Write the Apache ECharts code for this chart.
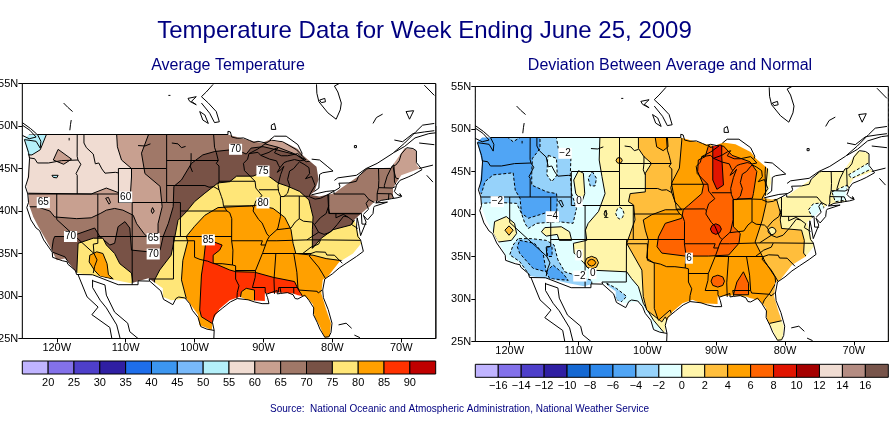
<!DOCTYPE html>
<html><head><meta charset="utf-8">
<style>html,body{margin:0;padding:0;background:#fff}#c{width:895px;height:423px}</style>
<script src="https://cdn.jsdelivr.net/npm/echarts@6/dist/echarts.min.js"></script>
</head><body><div id="c"></div>
<script>
// ---------- text and tick values ----------
const mainTitle = 'Temperature Data for Week Ending June 25, 2009';
const leftTitle = 'Average Temperature';
const rightTitle = 'Deviation Between Average and Normal';
const sourceText = 'Source:  National Oceanic and Atmospheric Administration, National Weather Service';
const lonTicks = [-120,-110,-100,-90,-80,-70];
// ---------- colour scales ----------
const avgLevels = [15,20,25,30,35,40,45,50,55,60,65,70,75,80,85,90];
const avgColors = ['#c0b4ff','#8371ea','#4e3fca','#2f1fa3','#1e6eeb','#3c96f0','#78b9fa','#b4f0fa','#f0dcd2','#c8a090','#a07868','#785246','#ffe678','#ffa000','#ff3200','#c00000'];
const devLevels = [-18,-16,-14,-12,-10,-8,-6,-4,-2,0,2,4,6,8,10,12,14,16];
const devColors = ['#c0b4ff','#8371ea','#4e3fca','#2f1fa3','#1568d2','#2d88eb','#50a5f5','#96d2fa','#e1ffff','#fff5aa','#ffbe3c','#ffa000','#ff6400','#e11400','#a50000','#f0dcd2','#b48c82','#78554b'];
// ---------- land mask (lon, lat) ----------
const landEdge = [[-124.7,48.5],[-124,49],[-95.2,49],[-92.5,48.4],[-90.3,48],[-89,48.4],[-87.2,48.2],[-85,47.3],[-84.2,46.5],[-82.3,45.2],[-82,43.7],[-82.6,42.3],[-83.2,41.9],[-81.9,41.7],[-79.7,42.1],[-78.7,42.7],[-76,44.2],[-75.1,45],[-71.5,45.1],[-69.5,47.4],[-67.9,47.2],[-67.75,45.4],[-67.3,45],[-70,44.2],[-71.2,42.7],[-71.2,41.5],[-73.9,41.1],[-74.6,40.5],[-75.1,40.2],[-76.8,39],[-76.3,37.6],[-75.8,36.2],[-77,35],[-79,34],[-80.65,32.3],[-81.4,31.9],[-81.6,30.3],[-80.9,28.4],[-80.2,26.8],[-80.4,25.2],[-81.1,25.1],[-81.9,26.6],[-82.6,27.6],[-82.8,29],[-83.8,29.9],[-85,30.1],[-85.7,30.3],[-87.7,30.4],[-89.8,30.3],[-89.8,29.4],[-92.2,29.5],[-93.45,29.9],[-94.9,29.5],[-96.35,28.5],[-97.3,27.3],[-97.5,26],[-99.3,26.6],[-99.5,27.8],[-101.2,29.7],[-103.4,29.5],[-104.6,29.9],[-104.6,30.9],[-106.7,32.1],[-109.2,31.5],[-111.8,31.9],[-113.7,32.3],[-117.1,32.7],[-118.8,34.4],[-120,34.2],[-121,35.8],[-122.7,38.2],[-123.4,39.3],[-124.1,40.9],[-124.1,42],[-124.4,42.9],[-124,46],[-124.7,48.5]];
const mapFrame = [[-125,55],[-125,25],[-65,25],[-65,55],[-125,55]];
// ---------- average temperature contours ----------
const avgBase = [[-125,55],[-65,55],[-65,25],[-125,25]];
const avgCyanWA = [[-125,49],[-121.5,49],[-122.4,47.2],[-123.6,46.6],[-125,46.6]];
const avgCyanOR = [[-120.7,44.2],[-119.8,44.2],[-120,43.9],[-120.5,43.95]];
const avg60 = [[-125,42.1],[-115,42],[-112.8,42.7],[-110.85,42.1],[-109.3,42.1],[-109.15,44],[-109.15,45],[-110.6,46],[-111.2,47.55],[-111.3,48.95],[-111.3,50],[-65,50],[-65,24],[-125,24]];
const avg60Island = [[-120.5,46],[-119.8,47.25],[-117.85,46.1],[-119,45.5]];
const avg65 = [[-106.7,50],[-106.7,48.95],[-107.7,46.8],[-107.2,44.4],[-105,42.9],[-104.7,40.5],[-105.3,38.5],[-105.3,36.9],[-106,36.6],[-107.2,37.2],[-108.4,38.5],[-108.9,39.5],[-110.4,40.1],[-111.6,40.3],[-112.8,40.1],[-113.7,39.7],[-115,39.2],[-117.1,39.1],[-120.3,39.3],[-121,40],[-122.9,40.5],[-125,40.5],[-125,24],[-65,24],[-65,50]];
const avg60Maine = [[-71.2,45.2],[-70.8,43.9],[-69.5,43.5],[-65.5,44],[-65.5,48],[-71,48]];
const avg60Superior = [[-89.8,47.9],[-88.85,48.35],[-87.2,48.15],[-85.2,47.2],[-83.8,46],[-85.7,46.8],[-87.9,47.5]];
const avg70 = [[-117.4,31],[-117.4,32.66],[-118.8,34.6],[-120.75,35.2],[-120.5,36.6],[-120.3,37],[-118,37],[-114.5,38],[-113.75,37],[-112.3,36],[-111.6,36.2],[-111.1,38.15],[-110.1,38.75],[-109.4,38],[-109.15,35.4],[-106.7,35.2],[-105,35.4],[-104.56,37],[-103.8,38.55],[-103.1,40.5],[-103,42.9],[-101.9,43.65],[-100.45,45.6],[-98.8,46.6],[-97.07,47],[-94.03,47.26],[-92.5,46.7],[-91.8,47.4],[-90.05,47.57],[-88.1,47.2],[-85.2,46.6],[-83.8,45.8],[-82.1,46],[-81,43.5],[-81.6,42.1],[-80.65,41.9],[-80.55,40.3],[-80.4,39.7],[-75.1,39.65],[-73.9,40.9],[-72,40],[-70,38],[-70,24],[-117.4,24]];
const avg75AZ = [[-116.9,36.2],[-114.7,36.8],[-113.3,36.8],[-112.8,36],[-111.6,35],[-110.85,33.8],[-109.15,32.7],[-108.9,31.3],[-112,30],[-117.5,31],[-117.1,32.7]];
const avg80AZ = [[-114.2,35.2],[-113.3,35],[-112.7,33.8],[-112.5,32.5],[-111.8,32],[-113.7,32.3],[-114.5,33],[-115.3,34],[-115.2,34.8]];
const avg75 = [[-105.8,31.9],[-105.05,33.06],[-103.4,34.8],[-102.9,36.8],[-102.4,38.9],[-101.2,39.9],[-100,41.1],[-98.5,42.1],[-96.6,43.3],[-94.9,43.45],[-93.9,44.1],[-91.5,44.1],[-90.07,44.6],[-87.9,43.3],[-86.45,42.9],[-84.75,42.3],[-83.4,41.3],[-82.8,39.3],[-82.9,37.8],[-82.9,35.6],[-81.6,36.8],[-79.9,37.8],[-77.3,38.35],[-76.8,38.9],[-74,38.9],[-72,30],[-76,24],[-105.8,24]];
const avg80 = [[-101.2,37],[-100,38.2],[-98.5,39.5],[-96.6,40.4],[-92,40.6],[-90.8,40.7],[-88.6,40.3],[-86.9,39.25],[-86,37.8],[-85.7,36.2],[-85.3,35],[-82.8,34.8],[-80.9,34.4],[-79,34.2],[-76,34],[-76,24],[-99.6,24],[-99.4,26.6],[-101,28.3],[-101.2,29.7],[-101.9,31.9],[-101.7,34.2],[-101,36.4]];
const avg85 = [[-98.43,36],[-97.3,36.4],[-96,36],[-96.35,35.4],[-97.3,34.8],[-97.3,33.9],[-94.9,33.06],[-94,32.86],[-91.3,32.8],[-88.6,32.2],[-85.5,31.7],[-84.9,30.7],[-84.4,30.1],[-84.4,28],[-97.5,26.8],[-99,27.55],[-99.25,28.35],[-99,32.47],[-98.7,34]];
const avg80LA = [[-93.2,30.5],[-92.5,30.9],[-91.3,30.7],[-91.3,29.3],[-93.45,29.3]];
const avg85Small = [[-87.8,31],[-85.6,31],[-85.6,30.2],[-87.8,30.2]];
const avgBands = [[55,avgBase],[50,avgCyanWA],[50,avgCyanOR],[60,avg60],[60,avg60Island],[65,avg65],[60,avg60Maine],[60,avg60Superior],[70,avg70],[75,avg75AZ],[80,avg80AZ],[75,avg75],[80,avg80],[85,avg85],[80,avg80LA],[85,avg85Small]];
const avgLabels = [[-94.05,47.26,'70'],[-90.07,44.7,'75'],[-90.07,40.94,'80'],[-98,36.6,'85'],[-121.95,40.98,'65'],[-110,41.65,'60'],[-118,37,'70'],[-106,36.74,'65'],[-106,34.94,'70']];
// ---------- deviation contours ----------
const devBase = [[-125,55],[-65,55],[-65,25],[-125,25]];
const devM2North = [[-126,50],[-113.2,50],[-113.2,48.9],[-112.9,47.5],[-111.1,46.75],[-111.2,44.6],[-111,42.4],[-110.3,40.66],[-110.8,38.9],[-113,39.1],[-116.1,38.9],[-117.3,38.3],[-117.8,38.9],[-118.3,40.1],[-119,41.25],[-121.84,41.37],[-124.1,41.25],[-126,41.25]];
const devM4North = [[-115.6,50],[-115.6,49],[-115.6,47.7],[-116.7,46.55],[-116.8,44.8],[-116.8,43.4],[-114.6,42.6],[-113.2,42.4],[-113.1,41.65],[-113.2,39.7],[-114.9,40.1],[-117.3,39.5],[-118.3,40.1],[-118.5,41.85],[-119.2,42.8],[-119.5,44.85],[-122.4,44.6],[-123.6,43.8],[-124.1,42.4],[-126,43],[-126,50]];
const devWAPatch = [[-120.4,49.1],[-119.5,48.5],[-118.3,49.1]];
const devIDPocket = [[-114.4,46.9],[-113.2,46.55],[-113.1,44.6],[-113.9,43.8],[-114.6,44.6],[-114.5,46.35]];
const devMTPatch = [[-108,45],[-107.4,44.2],[-107.6,43.3],[-108.3,43.3],[-108.6,44.2]];
const devWYYellow = [[-110,45.1],[-109.3,44.8],[-109.1,42.4],[-109.5,41.45],[-110.4,42.4],[-110.7,44]];
const devM2SW = [[-118.8,37.1],[-119.5,36.35],[-120,35.2],[-118.55,34.4],[-116.85,32.5],[-116.85,31],[-108,31],[-108.1,32.2],[-110.05,32.7],[-112,33.2],[-113,34.6],[-113.55,36.35],[-114.7,36.9],[-116.85,37.1]];
const devM4SW1 = [[-118.55,36.9],[-116.4,36.55],[-115.15,35.37],[-114.7,33.2],[-116.6,33.6],[-118.55,35.37],[-118.9,36.15]];
const devM4SW2 = [[-114.65,36.15],[-113.85,36.1],[-113.85,35],[-114.5,35]];
const devM4SW3 = [[-114.7,33.2],[-113.7,34],[-112.25,33],[-111.5,32.2],[-114.2,32.4]];
const devUTYellow = [[-115.4,37.9],[-114.9,38.4],[-112.5,38.5],[-111.3,37.9],[-111,36.9],[-112.8,36.9],[-113.1,37.6],[-114.7,37.4]];
const devCAYellow = [[-122.2,39.1],[-120.5,39.7],[-119.3,38.9],[-119,37.7],[-119.75,36.9],[-121.7,36.7],[-122.4,37.7]];
const devCAOrange = [[-120.1,38.6],[-119.5,38.1],[-120.1,37.5],[-120.7,38.1]];
const devBigBend = [[-105.9,31.85],[-104.5,31.25],[-103,30.3],[-104,29.5],[-104.9,30.5]];
const dev0 = [[-106.9,50],[-106.9,49],[-107,46.35],[-106.6,44.4],[-106.15,42.4],[-107.1,40.3],[-108.6,38.9],[-109,38.1],[-108.8,36.9],[-110.75,36.55],[-110.65,35.4],[-109.3,34.3],[-108.3,33.4],[-103,33.2],[-102.3,32.4],[-101.3,31.45],[-100.6,29.5],[-99.1,27.5],[-97.7,26.15],[-97.2,25],[-90,24],[-65,24],[-65,50]];
const devCOPocket = [[-104,40.8],[-103.6,40.55],[-103.4,40.08],[-103.6,39.6],[-104,39.4],[-104.4,39.6],[-104.6,40.08],[-104.4,40.55]];
const devPA = [[-76.6,40.5],[-75.9,41.2],[-74.7,41.3],[-74.3,40.7],[-75.6,38.9]];
const devNE = [[-73.2,42.6],[-71,43.4],[-71,41.65],[-72.7,41.45]];
const devME = [[-70.8,44.6],[-67.9,46],[-67.2,45.4],[-70.3,44.2]];
const devNM2 = [[-108.1,35.02],[-107.4,34.8],[-107.1,34.27],[-107.4,33.75],[-108.1,33.52],[-108.8,33.75],[-109.1,34.27],[-108.8,34.8]];
const devNM4 = [[-108.1,34.67],[-107.7,34.55],[-107.5,34.27],[-107.7,34],[-108.1,33.87],[-108.5,34],[-108.7,34.27],[-108.5,34.55]];
const devND2 = [[-104.1,46.65],[-103.8,46.55],[-103.65,46.3],[-103.8,46.05],[-104.1,45.95],[-104.4,46.05],[-104.55,46.3],[-104.4,46.55]];
const dev2 = [[-101.3,50],[-82,50],[-82.9,42.2],[-81.2,41.65],[-80.6,39.9],[-80.7,39.3],[-80.5,38.3],[-77.6,38.1],[-77.2,36.9],[-77.3,35.4],[-75,33],[-79,27.5],[-80.2,27.5],[-82.4,27.1],[-84,26.5],[-96.5,26.5],[-97.4,27.9],[-97.9,27.3],[-100.1,28.7],[-100.6,30.3],[-100.8,33.4],[-103,36.55],[-101.8,39.3],[-102,41.06],[-102.75,41.45],[-102.5,42.4],[-100.3,42.6],[-100.3,44.8],[-99.4,45.96],[-100.5,46.75],[-101.3,47.7],[-101.3,49]];
const devVAYellow = [[-81.9,38.45],[-81.5,38.3],[-81.3,38],[-81.5,37.7],[-81.9,37.55],[-82.3,37.7],[-82.5,38],[-82.3,38.3]];
const dev4 = [[-95,50],[-82.5,50],[-82.9,44.8],[-82.8,41.85],[-82.75,41.25],[-83.3,39.3],[-84.35,36.7],[-82.9,34.4],[-81.45,32.6],[-81.35,31.85],[-82.2,30.7],[-83,29.9],[-84,28],[-96,27],[-96.7,28.7],[-98.4,27.5],[-99,28.9],[-99,34.2],[-100.1,34.8],[-99.85,36.9],[-100.3,38.1],[-100.6,39.3],[-99.4,39.9],[-97.4,40.5],[-95,40.5],[-96,41.45],[-96.5,43.6],[-95.35,45.4],[-95,48.7]];
const dev4ND = [[-98.9,49.2],[-98.65,47.9],[-97.7,47.45],[-97,47.9],[-97.1,49.2]];
const dev6 = [[-90.9,47.85],[-88.95,48],[-87.7,46.9],[-85.1,46.15],[-84.1,45],[-84.6,42.4],[-84.75,41.85],[-87.55,41.7],[-87.5,38.5],[-86.5,37.7],[-86.7,36.55],[-88.2,35.17],[-91.1,35.05],[-94.5,35.05],[-97.9,35.4],[-98.6,36.15],[-98.4,37.3],[-97.4,38.9],[-95,39.5],[-94.8,40.5],[-94,41.05],[-92.1,42.4],[-91.85,43.4],[-92.7,45],[-92.6,46.35],[-91.6,46.75],[-91.1,48.1]];
const dev6MS = [[-89.77,32.8],[-89.05,32.6],[-88.8,32.1],[-89.05,31.6],[-89.77,31.4],[-90.5,31.6],[-90.75,32.1],[-90.5,32.6]];
const dev6AL = [[-86.05,33.2],[-85.3,31.85],[-85.3,30.5],[-87.5,30.5],[-87,32]];
const dev8WI = [[-90.5,48.1],[-89.2,48.1],[-89.2,46.75],[-88.95,43.4],[-89.9,42.9],[-90.5,44],[-90.5,46.35]];
const dev8MO = [[-90.06,38.85],[-89.5,38.65],[-89.25,38.23],[-89.5,37.8],[-90.06,37.6],[-90.6,37.8],[-90.85,38.23],[-90.6,38.65]];
const devBands = [[-2,devBase],[-4,devM2North],[-6,devM4North],[-4,devWAPatch],[-2,devIDPocket],[-4,devMTPatch],[0,devWYYellow],[-4,devM2SW],[-6,devM4SW1],[-6,devM4SW2],[-6,devM4SW3],[0,devUTYellow],[0,devCAYellow],[2,devCAOrange],[-4,devBigBend],[0,dev0],[-2,devCOPocket],[-2,devPA],[-2,devNE],[-2,devME],[2,devNM2],[4,devNM4],[2,devND2],[2,dev2],[0,devVAYellow],[4,dev4],[4,dev4ND],[6,dev6],[6,dev6MS],[6,dev6AL],[8,dev8WI],[8,dev8MO]];
const devLabels = [[-111.96,47.14,'\u22122'],[-121.8,41.45,'\u22122'],[-113.8,39.68,'\u22124'],[-109.93,41.45,'0'],[-109.93,35.18,'0'],[-109.8,32.7,'\u22122'],[-107.94,33,'0'],[-93.94,34.8,'6']];
const devBareLabels = [[-106,39.8,'1']];
// ---------- geography ----------
const usOutline = [[-124.7,48.4],[-123,48.2],[-122.4,47.4],[-122.3,48.2],[-122.8,49],[-95.15,49],[-95.15,49.38],[-94.8,49.3],[-94.6,48.7],[-93.8,48.55],[-92.9,48.6],[-92,48.3],[-91.4,48.07],[-90.8,48.2],[-89.6,48],[-90.8,47.3],[-92.1,46.75],[-90.8,46.9],[-90.4,46.55],[-89.2,46.9],[-88.4,47.3],[-87.9,47.45],[-88.4,46.85],[-87.4,46.5],[-86.5,46.5],[-85,46.75],[-84.6,46.45],[-84.1,46],[-84.7,45.9],[-85.5,46.05],[-86.5,45.85],[-87,45.7],[-87.6,45.1],[-88,44.55],[-87.4,44.9],[-87.05,45.25],[-87.5,44.3],[-87.9,43],[-87.8,42.3],[-87.5,41.7],[-87,41.7],[-86.5,42.1],[-86.2,43],[-86.5,43.7],[-86.2,44.7],[-85.6,45],[-85,45.6],[-84.75,45.78],[-84.1,45.5],[-83.4,45.1],[-83.3,44.4],[-83.9,43.8],[-83,44.05],[-82.5,43],[-83.1,42.2],[-83.4,41.7],[-82.5,41.4],[-81.7,41.5],[-80.5,42],[-79,42.7],[-78.9,42.9],[-79.05,43.27],[-77.6,43.3],[-76.5,43.5],[-76.2,44.1],[-75,44.95],[-74.7,45],[-71.5,45],[-71.3,45.3],[-70.8,45.4],[-70.3,45.9],[-70,46.7],[-69.2,47.45],[-68.3,47.35],[-67.8,47.07],[-67.8,45.7],[-67.4,45.3],[-67,44.85],[-68.2,44.3],[-69,44],[-70.2,43.6],[-70.7,43.05],[-70.8,42.7],[-71,42.3],[-70.6,41.95],[-70,41.75],[-70.2,42.05],[-69.95,41.7],[-70.6,41.55],[-71.4,41.45],[-72.9,41.25],[-73.7,40.95],[-72,41.05],[-73.9,40.55],[-74,40.4],[-74.1,39.7],[-74.9,38.95],[-75.5,39.5],[-75.1,38.7],[-75.9,37.1],[-76.2,38.5],[-76.4,39.2],[-76.5,38],[-76.3,37],[-75.9,36.6],[-75.5,35.25],[-76.5,34.65],[-77.9,33.9],[-79,33.3],[-80,32.6],[-81.1,32],[-81.4,30.7],[-81.3,29.8],[-80.6,28.4],[-80.05,26.8],[-80.2,25.7],[-80.5,25.2],[-81.1,25.15],[-81.8,26.1],[-82.2,26.9],[-82.75,27.8],[-82.7,28.6],[-83.4,29.5],[-84,30.1],[-85,29.65],[-85.4,29.7],[-85.7,30.15],[-86.5,30.4],[-87.5,30.3],[-88,30.25],[-88,30.65],[-88.9,30.4],[-89.6,30.2],[-89.4,29.8],[-89.2,29.1],[-90.2,29.1],[-91.3,29.3],[-92.2,29.55],[-93.8,29.7],[-94.8,29.3],[-95.9,28.6],[-97.1,27.8],[-97.4,26.9],[-97.15,25.95],[-98.2,26.1],[-99.1,26.4],[-99.5,27.5],[-100.3,28.3],[-100.7,29.1],[-101.4,29.77],[-102.3,29.88],[-102.7,29.7],[-103.15,28.98],[-104.5,29.6],[-104.9,30.6],[-106.5,31.75],[-108.2,31.78],[-108.2,31.33],[-111.07,31.33],[-114.8,32.5],[-117.12,32.53],[-117.3,33],[-118.4,33.75],[-118.5,34.03],[-119.2,34.15],[-120.6,34.55],[-120.65,35.15],[-121.9,36.6],[-122.5,37.7],[-123,38],[-123.75,38.95],[-124.35,40.4],[-124.1,41],[-124.2,42],[-124.55,42.85],[-124.1,44],[-123.95,46.2],[-124.1,46.9],[-124.7,48.4]];
const stateLines = [
[[-124,46.25],[-123.2,46.15],[-122.8,45.65],[-121.2,45.65],[-119.3,45.93],[-116.92,46]],
[[-117.03,49],[-117.04,46.42],[-116.92,46],[-116.5,45.5],[-117.2,44.4],[-117.03,44.2],[-117.03,42]],
[[-124.2,42],[-111.05,42]],
[[-116.05,49],[-116.05,48],[-115.7,47.45],[-114.7,46.7],[-114.4,45.55],[-113.9,45.65],[-113.45,44.95],[-113,44.45],[-111.5,44.55],[-111.05,44.48]],
[[-111.05,45],[-111.05,41],[-104.05,41],[-104.05,45],[-111.05,45]],
[[-104.05,49],[-104.05,45]],
[[-104.05,45.94],[-96.56,45.94]],
[[-97.23,49],[-97.1,47.5],[-96.85,46.9],[-96.56,45.94],[-96.85,45.6],[-96.45,45.3],[-96.45,43.5]],
[[-104.05,43],[-98.5,43],[-97.9,42.8],[-97.2,42.85],[-96.45,42.5]],
[[-96.45,43.5],[-91.22,43.5]],
[[-96.45,43.5],[-96.6,43.1],[-96.45,42.5],[-96.1,41.7],[-95.9,41.2],[-95.8,40.6],[-95.3,40],[-94.9,39.8],[-94.6,39.1],[-94.62,36.5]],
[[-95.77,40.58],[-91.7,40.6],[-91.42,40.38]],
[[-102.05,40],[-95.3,40]],
[[-104.05,41],[-102.05,41],[-102.05,37]],
[[-109.05,41],[-109.05,31.33]],
[[-114.04,42],[-114.04,36.2],[-114.7,36.1],[-114.6,35],[-114.15,34.25],[-114.5,33.5],[-114.7,32.7]],
[[-120,42],[-120,39],[-114.6,35]],
[[-114.04,37],[-94.62,37]],
[[-103,37],[-103.04,36.5],[-103.06,32],[-106.6,32],[-106.5,31.75]],
[[-103.04,36.5],[-100,36.5],[-100,34.56],[-99.2,34.3],[-98.1,34.1],[-97.2,33.8],[-96,33.8],[-94.5,33.65],[-94.04,33.55],[-94.04,32],[-93.55,31.2],[-93.8,30.4],[-93.85,29.7]],
[[-94.04,33],[-91.15,33]],
[[-94.5,33.65],[-94.43,35.4],[-94.62,36.5],[-90.15,36.5],[-90.37,36],[-89.7,36]],
[[-92.1,46.75],[-92.3,46.1],[-92.9,45.6],[-92.75,44.75],[-91.22,43.5],[-91.1,42.7],[-90.2,41.8],[-91.1,41.2],[-91.42,40.38],[-91.5,40],[-90.7,39],[-90.2,38.6],[-89.5,37.3],[-89.15,37],[-89.5,36.5],[-89.7,36],[-90.1,35.1],[-91.15,33],[-91.2,32.2],[-91.6,31],[-89.75,31],[-89.75,30.5],[-89.55,30.2]],
[[-90.65,42.5],[-87.8,42.5]],
[[-87.53,41.7],[-87.53,39.35],[-87.9,38],[-88.05,37.8]],
[[-89.15,37],[-88.05,37.8],[-87,37.9],[-86,38],[-85.4,38.7],[-84.8,39.1],[-84.2,38.8],[-83,38.7],[-82.6,38.4],[-81.75,39.2],[-80.9,39.7],[-80.52,40.64],[-80.52,42]],
[[-84.8,39.1],[-84.8,41.76]],
[[-87,41.76],[-84.8,41.76],[-83.45,41.72]],
[[-90.4,46.55],[-89.1,46.1],[-88.1,45.9],[-87.8,45.35],[-87.6,45.1]],
[[-89.5,36.5],[-88.05,36.5],[-83.7,36.6],[-81.7,36.6],[-75.9,36.55]],
[[-83.7,36.6],[-82,37.5],[-82.6,38.4]],
[[-82,37.5],[-81.2,37.25],[-80.3,37.5],[-79.3,38.4],[-78.35,39.4],[-77.75,39.3],[-77,38.85],[-77.2,38.4],[-76.3,37.95]],
[[-79.48,39.2],[-78.4,39.6],[-77.75,39.3]],
[[-80.52,40.64],[-80.52,39.72],[-75.79,39.72],[-75.7,38.46],[-75.05,38.45]],
[[-79.48,39.72],[-79.48,39.2]],
[[-79.76,42.27],[-79.76,42],[-75.35,42],[-74.7,41.36],[-75.1,40.9],[-74.75,40.2],[-75.5,39.6]],
[[-74.7,41.36],[-73.9,41]],
[[-73.3,45],[-73.25,43.6],[-73.3,42.75],[-73.5,42.05],[-73.5,41.3],[-73.65,41]],
[[-73.3,42.75],[-71.3,42.7],[-70.85,42.87]],
[[-73.5,42.05],[-71.4,42.02],[-71.1,41.5]],
[[-71.8,42.02],[-71.85,41.32]],
[[-71.5,45],[-72.05,44.1],[-72.45,43],[-72.45,42.73]],
[[-71.05,45.3],[-70.98,43.4],[-70.7,43.07]],
[[-81.7,36.6],[-82,36.1],[-83.1,35.75],[-84.3,35]],
[[-90.1,35],[-83.1,35],[-82.4,35.2],[-81,35.15],[-80.8,34.82],[-79.7,34.8],[-78.55,33.85]],
[[-83.1,35],[-83.35,34.7],[-82,33.4],[-81.4,32.6],[-81,32.05]],
[[-85.6,35],[-85.15,32.8],[-85,31],[-84.85,30.7],[-82.2,30.55],[-82.05,30.35],[-81.5,30.7]],
[[-85,31],[-87.6,31],[-87.45,30.35]],
[[-88.2,35],[-88.47,31.9],[-88.4,30.25]]
];
const waterLines = [
[[-108.2,47.7],[-107.2,47.65],[-106.4,47.9]],
[[-103.3,48],[-102.4,47.9],[-101.9,47.45],[-101.3,47.6]],
[[-100.5,46.8],[-100.5,45.9],[-100.6,45.2],[-100.3,44.6]],
[[-112.9,41.5],[-112.5,41.6],[-112.2,41],[-112.4,40.8],[-112.9,41.5]],
[[-106.1,40.4],[-105.85,40],[-106.1,39.7],[-106.3,40],[-106.1,40.4]]
];
const canadaLines = [
[[-125,50.1],[-123.9,49.5],[-123,48.7],[-124,48.5],[-125,48.9]],
[[-125,50.4],[-123.8,49.7],[-122.9,49.05]],
[[-119,52.7],[-118.4,52.2],[-117.7,51.7]],
[[-117.9,50.7],[-118,50.2],[-118.1,49.5]],
[[-118.2,48.6],[-118.2,48.3]],
[[-103.8,53.6],[-103.5,53.6]],
[[-97.3,54.9],[-98.3,54],[-99,53.45],[-98,52.7],[-96.85,51.7],[-96.4,50.5],[-97.1,50.4],[-97.8,51.5],[-99,52.7]],
[[-100.95,53.25],[-99.75,53.45],[-100.45,52.9],[-99.75,52.5],[-100.7,52.9],[-100.95,53.25]],
[[-99.25,51.7],[-98.8,50.7],[-98,50.3],[-98.5,51.3],[-99.25,51.7]],
[[-82.3,54.9],[-82.25,53.85],[-81.95,52.85],[-80.65,51.55],[-79.45,50.8],[-78.85,51.9],[-78.7,52.7],[-79.2,54],[-79.7,54.7],[-79,55]],
[[-81.85,53.05],[-81.1,53.25],[-81,52.85],[-81.6,52.75],[-81.85,53.05]],
[[-88.85,50.1],[-88.4,50.3],[-88.2,49.6],[-88.85,49.6],[-88.85,50.1]],
[[-76.8,47.7],[-76.5,47.7],[-76.5,47.45],[-76.8,47.45],[-76.8,47.7]],
[[-74.1,50.3],[-73.6,51],[-72.7,51.4]],
[[-69.3,51.7],[-68.2,51.8],[-68.8,50.8],[-69.3,51.7]],
[[-66.65,54.8],[-65.2,53.6]],
[[-71.2,46.8],[-69.5,48],[-67.85,49.35],[-66.9,50.1],[-65.2,50.3]],
[[-71,48.35],[-69.8,48.15],[-68.3,49.1],[-66.65,49.3],[-65.2,49.45]],
[[-71,46.9],[-69.5,47.6],[-68,48.6],[-66,49.1],[-65,49.2]],
[[-67.4,48],[-65.2,47.8]],
[[-66.3,44.2],[-65.4,43.4]],
[[-67.4,45],[-65.4,45.4]],
[[-89.1,48.35],[-88.4,48.8],[-86.7,48.8],[-85,47.8],[-84.4,46.8],[-84.5,46.5]],
[[-83,46.1],[-81.85,46],[-80.65,45.2],[-79.9,44.7],[-81.4,44.5],[-81.85,44.3],[-81.95,42.7],[-82.6,42.3]],
[[-83.05,41.9],[-80.9,42.3],[-79.7,42.4]],
[[-79.7,43.6],[-79.2,43.9],[-76.5,44.2],[-75.1,45],[-73.5,45.6],[-71.2,46.8]]
];
const mexicoLines = [
[[-116.9,32.5],[-115.6,29.9],[-114,28.7],[-114.9,27.8],[-112.3,26.3],[-112,25]],
[[-114.8,31.9],[-114.8,31],[-113.7,29.5],[-112.8,28.6],[-111.3,26.6],[-110.8,25]],
[[-114.8,31.8],[-113,31.3],[-112.8,30.1],[-111.6,28.1],[-109.7,26.8],[-109.4,25.8],[-108.2,25]],
[[-97.15,25.95],[-97.2,25]],
[[-79.1,26.6],[-78,26.8],[-77.2,26.2]],
[[-76.8,25.4],[-76,25.1]]
];
const usLines = [usOutline].concat(stateLines, waterLines);
const foreignLines = canadaLines.concat(mexicoLines);

const FONT = '"Liberation Sans", Arial, sans-serif';
const NAVY = '#000080';

function fillSeries(idx, bands, levels, colors, solidAll){
  const rings = bands.map(b => ({ring:b[1], color:colors[levels.indexOf(b[0])], dashed: !solidAll && b[0] < 0}));
  return {
    type:'custom', xAxisIndex:idx, yAxisIndex:idx, coordinateSystem:'cartesian2d', clip:true, silent:true, z:2,
    encode:{x:0,y:1}, animation:false,
    data: rings.map((r,i) => [r.ring[0][0], r.ring[0][1], i]),
    renderItem:(p,api) => {
      const r = rings[api.value(2)];
      return {type:'polygon', shape:{points:r.ring.map(q => api.coord(q))},
        style:{fill:r.color, stroke:'#000', lineWidth:1, lineDash:r.dashed?[3,2]:null}};
    }
  };
}
function maskSeries(idx){
  const ring = mapFrame.concat(landEdge);
  return {type:'custom', xAxisIndex:idx, yAxisIndex:idx, coordinateSystem:'cartesian2d', clip:true, silent:true, z:3,
    encode:{x:0,y:1}, animation:false, data:[[ring[0][0],ring[0][1]]],
    renderItem:(p,api) => ({type:'polygon', shape:{points:ring.map(q=>api.coord(q))}, style:{fill:'#fff'}})};
}
function lineSeries(idx, lines, clip, z){
  return {type:'custom', xAxisIndex:idx, yAxisIndex:idx, coordinateSystem:'cartesian2d', clip:clip, silent:true, z:z,
    encode:{x:0,y:1}, animation:false,
    data: lines.map((l,i)=>[l[0][0],l[0][1],i]),
    renderItem:(p,api) => ({type:'polyline', shape:{points:lines[api.value(2)].map(q=>api.coord(q))},
      style:{fill:'none', stroke:'#000', lineWidth:1}})};
}
function labelSeries(idx, data, bg){
  return {type:'scatter', xAxisIndex:idx, yAxisIndex:idx, symbolSize:0, silent:true, z:6, animation:false,
    itemStyle:{opacity:1},
    data:data,
    label:{show:true, position:'inside', formatter:p=>p.data[2], fontFamily:FONT, fontSize:10, color:'#000',
      backgroundColor:bg?'#fff':'transparent', padding:[1,1,0,1]}};
}
function barSeries(idx, levels, colors, hi){
  return {type:'custom', xAxisIndex:idx, yAxisIndex:idx, coordinateSystem:'cartesian2d', silent:true, animation:false, z:2,
    encode:{x:0}, clip:false,
    data: levels.map((v,i)=>[v, i]),
    renderItem:(p,api) => {
      const i = api.value(1), lo = levels[i], up = i+1<levels.length?levels[i+1]:hi;
      const a = api.coord([lo,1]), b = api.coord([up,0]);
      return {type:'rect', shape:{x:a[0],y:a[1],width:b[0]-a[0],height:b[1]-a[1]}, style:{fill:colors[i],stroke:'#000',lineWidth:1}};
    }};
}
const mapX = g => ({gridIndex:g, type:'value', min:-125, max:-65, position:'bottom',
  axisLine:{show:true,onZero:false,lineStyle:{color:'#000'}},
  axisTick:{show:true,length:4,customValues:lonTicks,lineStyle:{color:'#000'}},
  axisLabel:{customValues:lonTicks,color:'#000',fontFamily:FONT,fontSize:11,margin:4,formatter:v=>Math.abs(v)+'W'},
  splitLine:{show:false}});
const mapY = g => ({gridIndex:g, type:'value', min:25, max:55, interval:5,
  axisLine:{show:true,onZero:false,lineStyle:{color:'#000'}},
  axisTick:{show:true,length:4,lineStyle:{color:'#000'}},
  axisLabel:{color:'#000',fontFamily:FONT,fontSize:11,margin:4,formatter:v=>v+'N'},
  splitLine:{show:false}});
const barX = (g,min,max,interval) => ({gridIndex:g, type:'value', min:min, max:max, interval:interval,
  axisLine:{show:false}, axisTick:{show:false}, splitLine:{show:false},
  axisLabel:{color:'#000',fontFamily:FONT,fontSize:11,margin:3,showMinLabel:false,showMaxLabel:false,
    formatter:v=>String(v).replace('-','\u2212')}});
const barY = g => ({gridIndex:g, type:'value', min:0, max:1, show:false});

const chart = echarts.init(document.getElementById('c'), null, {renderer:'canvas'});
chart.setOption({
  animation:false, backgroundColor:'#fff',
  title:[
    {text:mainTitle,left:419.5,top:14,textAlign:'center',textStyle:{color:NAVY,fontFamily:FONT,fontSize:24,fontWeight:'normal'}},
    {text:leftTitle,left:223,top:53,textAlign:'center',textStyle:{color:NAVY,fontFamily:FONT,fontSize:16,fontWeight:'normal'}},
    {text:rightTitle,left:665,top:53,textAlign:'center',textStyle:{color:NAVY,fontFamily:FONT,fontSize:16,fontWeight:'normal'}},
    {text:sourceText,left:454.5,top:399,textAlign:'center',textStyle:{color:NAVY,fontFamily:FONT,fontSize:10,fontWeight:'normal'}}
  ],
  grid:[
    {left:22.3,top:83.5,width:413.4,height:255,outerBoundsMode:'none'},
    {left:475.3,top:86.5,width:413,height:255,outerBoundsMode:'none'},
    {left:22.3,top:361,width:413.4,height:13,outerBoundsMode:'none'},
    {left:475.3,top:364.3,width:413,height:13,outerBoundsMode:'none'}
  ],
  xAxis:[mapX(0),mapX(1),barX(2,15,95,5),barX(3,-18,18,2)],
  yAxis:[mapY(0),mapY(1),barY(2),barY(3)],
  series:[
    fillSeries(0,avgBands,avgLevels,avgColors,true),
    maskSeries(0),
    lineSeries(0,usLines,true,4),
    lineSeries(0,foreignLines,true,4),
    lineSeries(0,[mapFrame],false,5),
    labelSeries(0,avgLabels,true),
    fillSeries(1,devBands,devLevels,devColors,false),
    maskSeries(1),
    lineSeries(1,usLines,true,4),
    lineSeries(1,foreignLines,true,4),
    lineSeries(1,[mapFrame],false,5),
    labelSeries(1,devLabels,true),
    labelSeries(1,devBareLabels,false),
    barSeries(2,avgLevels,avgColors,95),
    barSeries(3,devLevels,devColors,18)
  ]
});
</script></body></html>
